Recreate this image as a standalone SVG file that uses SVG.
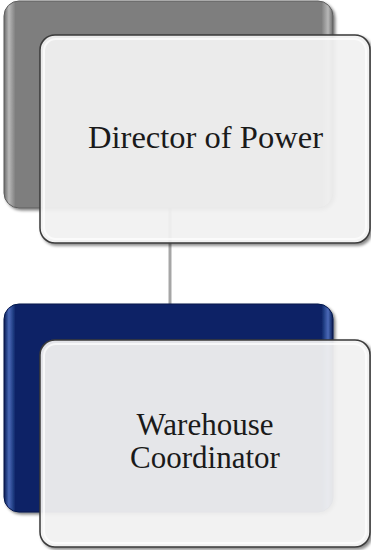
<svg xmlns="http://www.w3.org/2000/svg" width="371" height="550" viewBox="0 0 371 550">
  <style>
    .lbl { font-family: "Liberation Serif", "Times New Roman", serif; font-size: 31px; fill: #1a1a1a; text-anchor: middle; }
    .front { fill: #f6f6f6; fill-opacity: 0.9; stroke: #3a3a3a; stroke-width: 1.5; }
    .bevel { fill: none; stroke: #ffffff; stroke-opacity: 0.7; stroke-width: 2; }
    .conn { stroke: #a6a6a6; stroke-width: 3; fill: none; }
  </style>
  <defs>
    <linearGradient id="grayGlass" x1="0" y1="0" x2="1" y2="0">
      <stop offset="0" stop-color="#6a6a6a"/>
      <stop offset="0.015" stop-color="#b8b8b8"/>
      <stop offset="0.035" stop-color="#7e7e7e"/>
      <stop offset="0.965" stop-color="#7e7e7e"/>
      <stop offset="0.985" stop-color="#b8b8b8"/>
      <stop offset="1" stop-color="#6a6a6a"/>
    </linearGradient>
    <linearGradient id="navyGlass" x1="0" y1="0" x2="1" y2="0">
      <stop offset="0" stop-color="#061a52"/>
      <stop offset="0.015" stop-color="#4a6ab8"/>
      <stop offset="0.035" stop-color="#0b2466"/>
      <stop offset="0.965" stop-color="#0b2466"/>
      <stop offset="0.985" stop-color="#4a6ab8"/>
      <stop offset="1" stop-color="#061a52"/>
    </linearGradient>
    <filter id="shadow" x="-10%" y="-10%" width="125%" height="125%">
      <feGaussianBlur in="SourceAlpha" stdDeviation="1.5"/>
      <feOffset dx="1.5" dy="2" result="b"/>
      <feComponentTransfer><feFuncA type="linear" slope="0.5"/></feComponentTransfer>
      <feMerge><feMergeNode/><feMergeNode in="SourceGraphic"/></feMerge>
    </filter>
  </defs>

  <g id="connectors">
    <line class="conn" x1="170" y1="205" x2="170" y2="306"/>
  </g>

  <g id="node-director">
    <rect x="4" y="1" width="329" height="207" rx="15" fill="url(#grayGlass)" stroke="#5e5e5e" stroke-width="1" filter="url(#shadow)"/>
    <rect x="40" y="35" width="330" height="208" rx="15" class="front" filter="url(#shadow)"/>
    <rect x="44" y="39" width="322" height="200" rx="12" class="bevel"/>
    <text class="lbl" x="205.5" y="148" textLength="235" lengthAdjust="spacingAndGlyphs">Director of Power</text>
  </g>

  <g id="node-warehouse">
    <rect x="4" y="304" width="329" height="208" rx="15" fill="url(#navyGlass)" stroke="#04164a" stroke-width="1" filter="url(#shadow)"/>
    <rect x="40" y="340" width="330" height="207" rx="15" class="front" stroke="#2a3550" filter="url(#shadow)"/>
    <rect x="44" y="344" width="322" height="199" rx="12" class="bevel"/>
    <text class="lbl" x="205" y="435">Warehouse</text>
    <text class="lbl" x="205" y="468">Coordinator</text>
  </g>
</svg>
